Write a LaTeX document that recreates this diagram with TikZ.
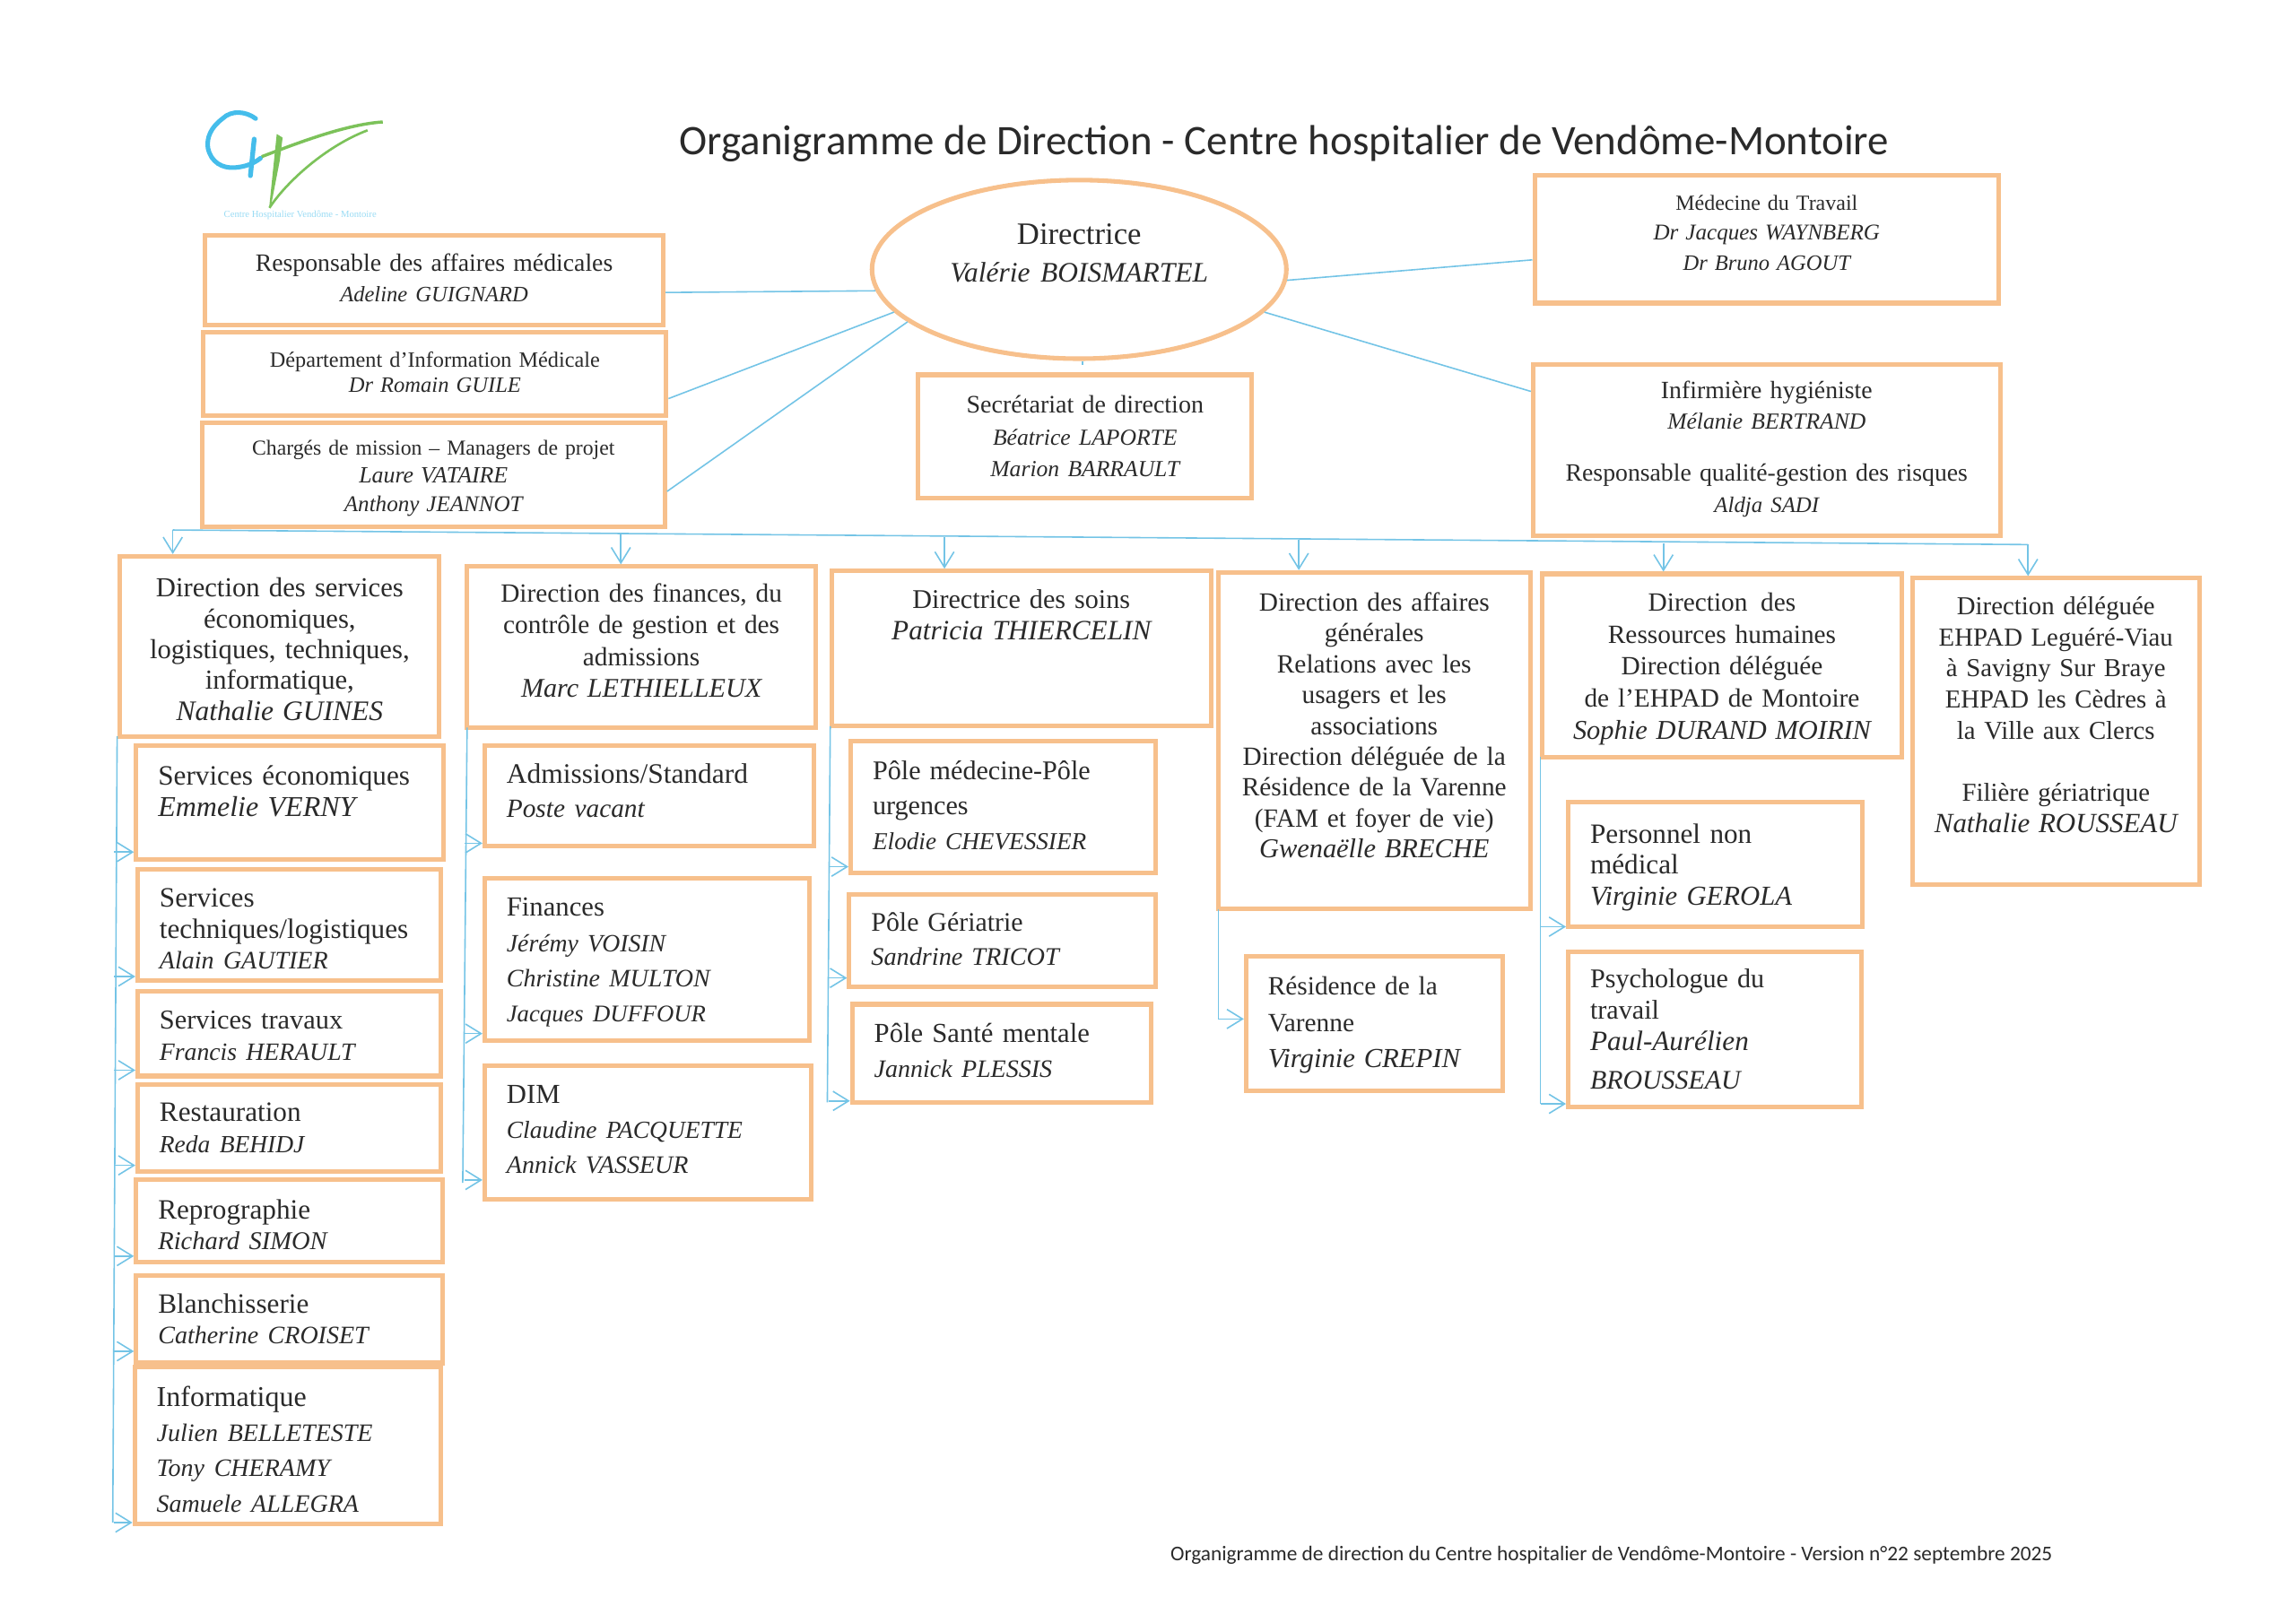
\documentclass[tikz,border=0pt]{standalone}
\usepackage{fontspec}
\setmainfont{Liberation Serif}
\newfontfamily\titlefont{Carlito}
\usepackage{tikz}
\usetikzlibrary{arrows.meta,shapes.geometric}
\definecolor{boxorange}{HTML}{F7C08C}
\definecolor{linkblue}{HTML}{74C4E6}
\definecolor{inkgray}{HTML}{2A2A2A}
\definecolor{logoblue}{HTML}{45BDEB}
\definecolor{logogreen}{HTML}{7CC25A}
\newcommand{\upx}{0.6122pt}
\newcommand{\nm}[2][10.5]{{\fontsize{#1}{#1}\selectfont\itshape #2}}
\tikzset{
    dims/.style 2 args={minimum width=#1*\upx, minimum height=#2*\upx, text width=(#1-2*\pgfkeysvalueof{/tikz/padx})*\upx, inner xsep=\pgfkeysvalueof{/tikz/padx}*\upx},
    padx/.initial=15,
    pushup/.style={execute at end node={\par\vspace*{#1}}},
    orgbox/.style={draw=boxorange, line width=1.9pt, fill=white, inner ysep=0pt, text=inkgray},
    headbox/.style={orgbox, padx=4, align=center, font=\fontsize{11}{13.2}\selectfont},
    topbox/.style={orgbox, padx=2, align=center, font=\fontsize{10.4}{12.8}\selectfont},
    subbox/.style={orgbox, padx=15, align=left, font=\fontsize{11.7}{12.9}\selectfont},
    link/.style={draw=linkblue, line width=0.6pt},
    arrowlink/.style={link, -{Straight Barb[length=6.5pt,width=8pt]}}
}
\begin{document}
\begin{tikzpicture}[x=\upx, y=-\upx]
    \useasboundingbox (0,0) rectangle (1568,1108.6);

    % Logo
    \draw[logoblue, line width=1.9pt, line cap=round] (174.6,81) .. controls (168,76) and (158,75) .. (152,81) .. controls (144,87) and (141,94) .. (142,101) .. controls (144,111) and (152,115) .. (160,114.5) .. controls (167,114) and (173,112) .. (178,108);
    \draw[logoblue, line width=2pt, line cap=round] (173.6,95) -- (171,120);
    \fill[logogreen] (189,91.5) -- (193,94) -- (191,110) -- (185,141) -- (183.8,142) -- cycle;
    \draw[logogreen, line width=1pt] (184,142) .. controls (195,125) and (222,100) .. (251,89);
    \draw[logogreen, line width=1.3pt] (178.7,107) .. controls (200,99) and (235,85) .. (261.4,83.3);
    \node[text=logoblue!55, font=\fontsize{4}{5}\selectfont] (logotext) at (205,147) {Centre Hospitalier Vendôme - Montoire};

    % Title
    \node[text=inkgray, font=\titlefont\fontsize{17.6}{20}\selectfont] (title) at (877,98) {Organigramme de Direction - Centre hospitalier de Vendôme-Montoire};
    \node[text=inkgray, font=\titlefont\fontsize{8.75}{11}\selectfont] (footer) at (1100.5,1062) {Organigramme de direction du Centre hospitalier de Vendôme-Montoire - Version n°22 septembre 2025};

    % Direction
    \node[ellipse, draw=boxorange, line width=1.9pt, fill=white, text=inkgray, inner sep=0pt, minimum width=283*\upx, minimum height=122*\upx, text width=190*\upx, align=center, font=\fontsize{13}{16}\selectfont, pushup=13.5pt] (dir) at (737,184) {Directrice\\ \nm[11.8]{Valérie BOISMARTEL}};

    % Top boxes
    \node[topbox, dims={313}{61}, pushup=2pt] (resp) at (296.5,191.5) {Responsable des affaires médicales\\ \nm[9.2]{Adeline GUIGNARD}};
    \node[topbox, dims={316}{57}, font=\fontsize{9.1}{10.8}\selectfont, pushup=1.5pt] (dimed) at (297,255.5) {Département d’Information Médicale\\ \nm[9.2]{Dr Romain GUILE}};
    \node[topbox, dims={316}{71}, font=\fontsize{8.9}{11.8}\selectfont, pushup=-2.4pt] (charges) at (296,324.5) {Chargés de mission – Managers de projet\\ \nm[9.7]{Laure VATAIRE}\\ \nm[9.4]{Anthony JEANNOT}};
    \node[topbox, dims={228}{84}, font=\fontsize{10.5}{13.2}\selectfont] (secr) at (741,298) {Secrétariat de direction\\ \nm[9.6]{Béatrice LAPORTE}\\ \nm[9.6]{Marion BARRAULT}};
    \node[topbox, dims={317}{87}, font=\fontsize{9}{12.6}\selectfont, pushup=5.5pt] (medtrav) at (1206.5,163.5) {Médecine du Travail\\ \nm[9.4]{Dr Jacques WAYNBERG}\\ \nm[9.2]{Dr Bruno AGOUT}};
    \node[topbox, dims={319}{117}, pushup=1pt] (infirm) at (1206.5,307.5) {Infirmière hygiéniste\\ \nm[9.6]{Mélanie BERTRAND}\\[9pt] Responsable qualité-gestion des risques\\ \nm[9.3]{Aldja SADI}};

    % Links to the direction
    \draw[link] (resp.-3) -- (dir.186);
    \draw[link] (dimed.-6) -- (dir.193.5);
    \draw[link] (charges.-4) -- (dir.197);
    \draw[link] (medtrav.185) -- (dir.-3);
    \draw[link] (infirm.166) -- (dir.-13.5);
    \draw[link] (dir.-88) -- ++(0,3);

    % Heads of the columns
    \node[headbox, dims={218}{123}, font=\fontsize{11.5}{12.9}\selectfont, pushup=-2.4pt] (eco) at (191,441.5) {Direction des services\\ économiques,\\ logistiques, techniques,\\ informatique,\\ \nm[11.8]{Nathalie GUINES}};
    \node[headbox, dims={238}{110}, pushup=5.5pt] (fina) at (438,442) {Direction des finances, du\\ contrôle de gestion et des\\ admissions\\ \nm[11.3]{Marc LETHIELLEUX}};
    \node[headbox, dims={259}{106}, font=\fontsize{11.3}{13.2}\selectfont, pushup=28pt] (soins) at (697.5,443) {Directrice des soins\\ \nm[11.7]{Patricia THIERCELIN}};
    \node[headbox, dims={213}{230}, font=\fontsize{11}{12.9}\selectfont, pushup=12.9pt] (affa) at (938.5,506) {Direction des affaires\\ générales\\ Relations avec les\\ usagers et les\\ associations\\ Direction déléguée de la\\ Résidence de la Varenne\\ (FAM et foyer de vie)\\ \nm[11.4]{Gwenaëlle BRECHE}};
    \node[headbox, dims={246}{125}, font=\fontsize{11}{13.4}\selectfont, pushup=-3pt] (rh) at (1176,454.5) {Direction\enspace des\\ Ressources humaines\\ Direction déléguée\\ de l’EHPAD de Montoire\\ \nm[11.4]{Sophie DURAND MOIRIN}};
    \node[headbox, dims={196}{209}, font=\fontsize{10.8}{13}\selectfont, pushup=14pt] (ehpad) at (1404,499.5) {Direction déléguée\\ EHPAD Leguéré-Viau\\ à Savigny Sur Braye\\ EHPAD les Cèdres à\\ la Ville aux Clercs\\[13pt] Filière gériatrique\\ \nm[11.6]{Nathalie ROUSSEAU}};

    % Services
    \node[subbox, dims={210}{78}, pushup=9.2pt] (sEco) at (198,548) {Services économiques\\ \nm[12]{Emmelie VERNY}};
    \node[subbox, dims={207}{76}, pushup=-3pt] (sTech) at (197.5,632) {Services\\ techniques/logistiques\\ \nm{Alain GAUTIER}};
    \node[subbox, dims={207}{58}, font=\fontsize{11.4}{12.9}\selectfont, pushup=-1.8pt] (sTrav) at (197.5,706) {Services travaux\\ \nm[10.4]{Francis HERAULT}};
    \node[subbox, dims={207}{59}] (sRest) at (197.5,770.5) {Restauration\\ \nm[10.3]{Reda BEHIDJ}};
    \node[subbox, dims={209}{56}, pushup=-3pt] (sRepro) at (197.5,834) {Reprographie\\ \nm[10.7]{Richard SIMON}};
    \node[subbox, dims={209}{60}] (sBlanch) at (197.5,901) {Blanchisserie\\ \nm{Catherine CROISET}};
    \node[subbox, dims={209}{107}, font=\fontsize{12}{14.7}\selectfont, pushup=-3pt] (sInfo) at (196.5,987.5) {Informatique\\ \nm{Julien BELLETESTE}\\ \nm{Tony CHERAMY}\\ \nm{Samuele ALLEGRA}};

    \node[subbox, dims={225}{69}, font=\fontsize{11.8}{14}\selectfont, pushup=4.3pt] (sAdm) at (443.5,543.5) {Admissions/Standard\\ \nm[11]{Poste vacant}};
    \node[subbox, dims={222}{111}, font=\fontsize{11.5}{14.7}\selectfont, pushup=-2.4pt] (sFin) at (442,655.5) {Finances\\ \nm[10.4]{Jérémy VOISIN}\\ \nm{Christine MULTON}\\ \nm[10]{Jacques DUFFOUR}};
    \node[subbox, dims={223}{91}, font=\fontsize{11.5}{14.7}\selectfont, pushup=2.4pt] (sDim) at (442.5,773.5) {DIM\\ \nm[10.3]{Claudine PACQUETTE}\\ \nm{Annick VASSEUR}};

    \node[subbox, dims={208}{90}, font=\fontsize{11.3}{14.7}\selectfont, pushup=1pt] (pMed) at (685,551) {Pôle médecine-Pôle\\ urgences\\ \nm[10.2]{Elodie CHEVESSIER}};
    \node[subbox, dims={209}{63}, font=\fontsize{11.2}{14.2}\selectfont, pushup=1pt] (pGer) at (684.5,642.5) {Pôle Gériatrie\\ \nm[10.6]{Sandrine TRICOT}};
    \node[subbox, dims={204}{67}, font=\fontsize{11.5}{14.7}\selectfont, pushup=2.4pt] (pSm) at (684,719.5) {Pôle Santé mentale\\ \nm{Jannick PLESSIS}};

    \node[subbox, dims={175}{92}, font=\fontsize{11}{15.2}\selectfont, pushup=-1.5pt] (sRes) at (938.5,699) {Résidence de la\\ Varenne\\ \nm[11.5]{Virginie CREPIN}};

    \node[subbox, dims={201}{85}, pushup=-2.4pt] (sPers) at (1171.5,590.5) {Personnel non\\ médical\\ \nm[11.5]{Virginie GEROLA}};
    \node[subbox, dims={200}{106}, font=\fontsize{11.3}{13.2}\selectfont] (sPsy) at (1171,703) {Psychologue du\\ travail\\ \nm[11.7]{Paul-Aurélien}\\[3pt] \nm[11.2]{BROUSSEAU}};

    % Bus under the top boxes
    \coordinate (busA) at (118,362);
    \coordinate (busB) at (424,365);
    \coordinate (busC) at (645,367);
    \coordinate (busD) at (887,369);
    \coordinate (busE) at (1136,371);
    \coordinate (busF) at (1385,372);
    \draw[link] (busA) -- (busF);
    \foreach \p/\q in {busA/eco,busB/fina,busC/soins,busD/affa,busE/rh,busF/ehpad}
        \draw[arrowlink] (\p) -- (\p |- \q.north);

    % Trunks of the columns
    \coordinate (trunkA) at (80,503);
    \coordinate (trunkB) at (319,497);
    \coordinate (trunkC) at (567,496);
    \coordinate (trunkD) at (832,621);
    \coordinate (trunkE) at (1052,517);
    \draw[link] (trunkA) -- (77,1040);
    \draw[link] (trunkB) -- (316,808);
    \draw[link] (trunkC) -- (565,753);
    \draw[link] (trunkD) -- (832,696);
    \draw[link] (trunkE) -- (1052,754);
    \foreach \q/\y in {sEco/582,sTech/667,sTrav/731,sRest/796,sRepro/858,sBlanch/923,sInfo/1040}
        \draw[arrowlink] (78,\y) -- (\q.west |- 78,\y);
    \foreach \q/\y in {sAdm/576,sFin/706,sDim/806}
        \draw[arrowlink] (317,\y) -- (\q.west |- 317,\y);
    \foreach \q/\y in {pMed/592,pGer/668,pSm/752}
        \draw[arrowlink] (566,\y) -- (\q.west |- 566,\y);
    \draw[arrowlink] (832,696) -- (sRes.west |- 832,696);
    \foreach \q/\y in {sPers/633,sPsy/754}
        \draw[arrowlink] (1052,\y) -- (\q.west |- 1052,\y);
\end{tikzpicture}
\end{document}
